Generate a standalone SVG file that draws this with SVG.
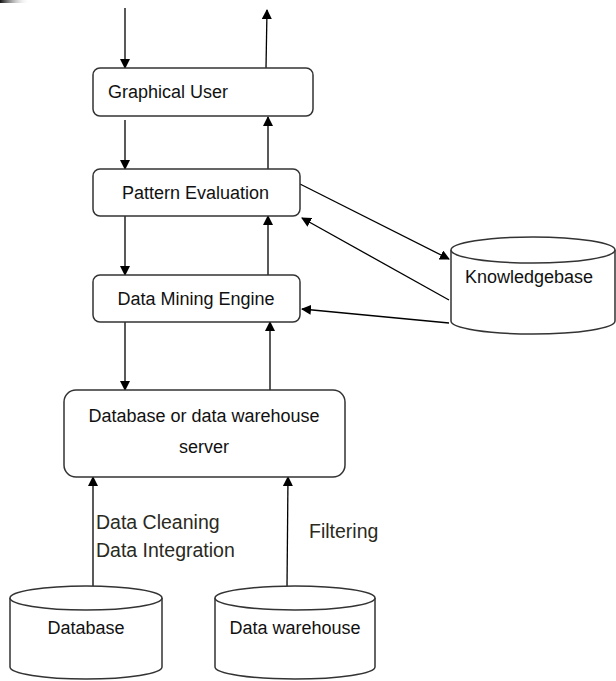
<svg xmlns="http://www.w3.org/2000/svg" width="616" height="681" viewBox="0 0 616 681">
<defs>
<marker id="ah" markerWidth="10" markerHeight="10" refX="9" refY="5" orient="auto" markerUnits="userSpaceOnUse">
<path d="M0,0 L10,5 L0,10 Z" fill="#000"/>
</marker>
<linearGradient id="corner" x1="0" y1="0" x2="1" y2="0">
<stop offset="0" stop-color="#111"/>
<stop offset="1" stop-color="#fff" stop-opacity="0"/>
</linearGradient>
</defs>
<style>
.box{fill:#fff;stroke:#333;stroke-width:1.5}
.cyl{fill:#fff;stroke:#333;stroke-width:1.5}
.t{font-family:"Liberation Sans",Arial,sans-serif;font-size:18px;fill:#111}
.lbl{font-family:"Liberation Sans",Arial,sans-serif;font-size:19.5px;fill:#2a2a1e}
.c{fill:none;stroke:#000;stroke-width:1.3;marker-end:url(#ah)}
</style>
<rect x="0" y="0" width="30" height="3" fill="url(#corner)"/>
<g id="connectors">
<line class="c" x1="125" y1="8" x2="125" y2="68"/>
<line class="c" x1="266" y1="68" x2="267" y2="10"/>
<line class="c" x1="125" y1="120" x2="125" y2="169"/>
<line class="c" x1="268" y1="169" x2="268" y2="117"/>
<line class="c" x1="125" y1="216" x2="125" y2="275"/>
<line class="c" x1="268" y1="275" x2="268" y2="216"/>
<line class="c" x1="125" y1="322" x2="125" y2="390"/>
<line class="c" x1="270" y1="390" x2="270" y2="322"/>
<line class="c" x1="93" y1="587" x2="93" y2="477"/>
<line class="c" x1="287" y1="587" x2="288" y2="477"/>
<line class="c" x1="300" y1="184" x2="449" y2="259"/>
<line class="c" x1="449" y1="300" x2="302" y2="218"/>
<line class="c" x1="449" y1="323" x2="302" y2="309"/>
</g>
<g id="graphical-user">
<rect class="box" x="93" y="68" width="220" height="48" rx="7"/>
<text class="t" x="108" y="98">Graphical User</text>
</g>
<g id="pattern-evaluation">
<rect class="box" x="93" y="169" width="207" height="47" rx="7"/>
<text class="t" x="122" y="199">Pattern Evaluation</text>
</g>
<g id="data-mining-engine">
<rect class="box" x="93" y="275" width="207" height="47" rx="7"/>
<text class="t" x="196" y="305" text-anchor="middle">Data Mining Engine</text>
</g>
<g id="server">
<rect class="box" x="64" y="390" width="281" height="87" rx="12"/>
<text class="t" x="204" y="422" text-anchor="middle">Database or data warehouse</text>
<text class="t" x="204" y="453" text-anchor="middle">server</text>
</g>
<g id="knowledgebase">
<path class="cyl" d="M451,250 A82,13 0 0 1 615,250 L615,321 A82,13 0 0 1 451,321 Z"/>
<path class="cyl" d="M451,250 A82,13 0 0 0 615,250" fill="none"/>
<text class="t" x="465" y="283">Knowledgebase</text>
</g>
<g id="database">
<path class="cyl" d="M10,598 A76,12 0 0 1 162,598 L162,667 A76,12 0 0 1 10,667 Z"/>
<path class="cyl" d="M10,598 A76,12 0 0 0 162,598" fill="none"/>
<text class="t" x="86" y="634" text-anchor="middle">Database</text>
</g>
<g id="data-warehouse">
<path class="cyl" d="M215,598 A80,12 0 0 1 375,598 L375,667 A80,12 0 0 1 215,667 Z"/>
<path class="cyl" d="M215,598 A80,12 0 0 0 375,598" fill="none"/>
<text class="t" x="295" y="634" text-anchor="middle">Data warehouse</text>
</g>
<g id="labels">
<text class="lbl" x="96" y="529">Data Cleaning</text>
<text class="lbl" x="96" y="557">Data Integration</text>
<text class="lbl" x="309" y="538">Filtering</text>
</g>
</svg>
